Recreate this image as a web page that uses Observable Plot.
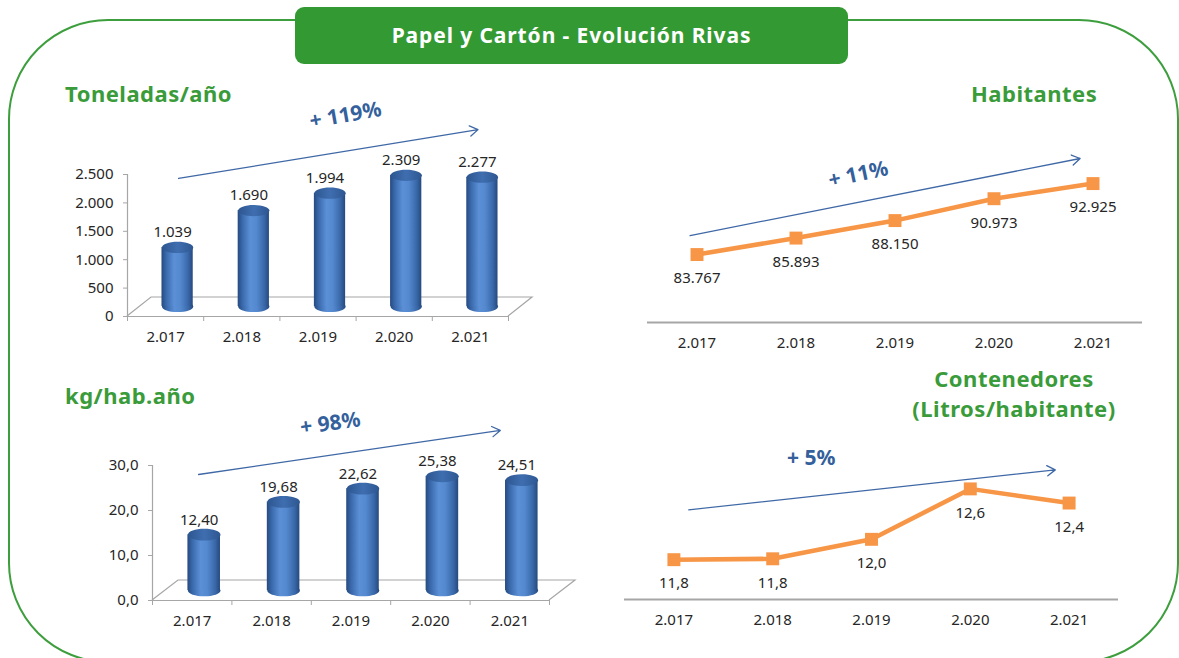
<!DOCTYPE html>
<html>
<head>
<meta charset="utf-8">
<script src="https://cdn.jsdelivr.net/npm/d3@7"></script>
<script src="https://cdn.jsdelivr.net/npm/@observablehq/plot@0.6"></script>
<style>
html, body { margin: 0; padding: 0; background: #ffffff; }
#root { position: relative; width: 1179px; height: 658px; overflow: hidden; font-family: "Noto Sans", sans-serif; background: #fff; }
.frame { position: absolute; left: 8px; top: 19px; width: 1171px; height: 644px; border: 2px solid #3c9e3c; border-radius: 100px; box-sizing: border-box; }
.banner { position: absolute; left: 295px; top: 7px; width: 553px; height: 57px; background: #339933; border-radius: 9px; color: #fff; font-weight: 700; font-size: 21px; letter-spacing: 0.9px; line-height: 57px; text-align: center; }
.ptitle { position: absolute; color: #3a9b3a; font-weight: 700; font-size: 22px; letter-spacing: 0.5px; line-height: 30px; white-space: nowrap; }
.panel { position: absolute; }
.panel svg { display: block; }
</style>
</head>
<body>
<div id="root">
  <div class="frame"></div>
  <div class="banner">Papel y Cartón - Evolución Rivas</div>
  <div class="ptitle" style="left:65px; top:78px;">Toneladas/año</div>
  <div class="ptitle" style="left:65px; top:380px;">kg/hab.año</div>
  <div class="ptitle" style="left:971px; top:78px;">Habitantes</div>
  <div class="ptitle" style="left:904px; top:363px; width:220px; text-align:center;">Contenedores<br>(Litros/habitante)</div>
  <div class="panel" id="p1" style="left:0px; top:100px;"></div>
  <div class="panel" id="p2" style="left:620px; top:100px;"></div>
  <div class="panel" id="p3" style="left:0px; top:380px;"></div>
  <div class="panel" id="p4" style="left:600px; top:400px;"></div>
</div>
<script>
// ---------- data ----------
const years = [2017, 2018, 2019, 2020, 2021];
const toneladas = [1039, 1690, 1994, 2309, 2277];
const kgHab = [12.40, 19.68, 22.62, 25.38, 24.51];
const habitantes = [83767, 85893, 88150, 90973, 92925];
const contenedores = [11.80, 11.81, 12.03, 12.60, 12.44];
const toneladasTicks = [0, 500, 1000, 1500, 2000, 2500];
const kgHabTicks = [0, 10, 20, 30];
const trendLabels = ["+ 119%", "+ 98%", "+ 11%", "+ 5%"];

// ---------- style ----------
const AXIS = "#a6a6a6";
const TEXT = "#262626";
const ARROW = "#3f68a6";
const TREND = "#34609c";
const ORANGE = "#f79646";
const FONT = "Noto Sans, sans-serif";
const HALF = 0.205; // half cylinder width, in band units

const es = d3.formatLocale({decimal: ",", thousands: ".", grouping: [3], currency: ["", " €"]});
const fmtYear = es.format(",d");
const idx = years.map((_, i) => i);
const bounds = [...idx.map(i => i - 0.5), years.length - 0.5];

const ellipse = {
  draw(ctx, size) {
    const rx = Math.sqrt(size / Math.PI), ry = rx * 0.36, k = 0.5523;
    ctx.moveTo(rx, 0);
    ctx.bezierCurveTo(rx, ry * k, rx * k, ry, 0, ry);
    ctx.bezierCurveTo(-rx * k, ry, -rx, ry * k, -rx, 0);
    ctx.bezierCurveTo(-rx, -ry * k, -rx * k, -ry, 0, -ry);
    ctx.bezierCurveTo(rx * k, -ry, rx, -ry * k, rx, 0);
    ctx.closePath();
  }
};

function gradientDefs(id) {
  return () => {
    const defs = d3.create("svg:defs");
    const body = defs.append("linearGradient").attr("id", id + "-body")
      .attr("x1", 0).attr("x2", 1).attr("y1", 0).attr("y2", 0);
    [[0, "#264a80"], [0.16, "#3b6bae"], [0.4, "#5b8fd6"], [0.6, "#5489cf"], [0.85, "#3968a9"], [1, "#26497e"]]
      .forEach(([o, c]) => body.append("stop").attr("offset", o).attr("stop-color", c));
    const top = defs.append("linearGradient").attr("id", id + "-top")
      .attr("x1", 0).attr("x2", 1).attr("y1", 0).attr("y2", 0);
    [[0, "#2d5690"], [0.5, "#3f6eb0"], [1, "#2e5791"]]
      .forEach(([o, c]) => top.append("stop").attr("offset", o).attr("stop-color", c));
    return defs.node();
  };
}

function floorMark(n, depth) {
  return (index, scales) => {
    const x0 = scales.x(-0.5), x1 = scales.x(n - 0.5), y0 = scales.y(0);
    const [ddx, ddy] = depth;
    return d3.create("svg:path")
      .attr("d", `M${x0},${y0}L${x0 + ddx},${y0 + ddy}L${x1 + ddx},${y0 + ddy}L${x1},${y0}`)
      .attr("fill", "none").attr("stroke", AXIS).attr("stroke-width", 1.2)
      .node();
  };
}

function trendMarks(trend) {
  return [
    Plot.arrow([trend], {x1: "x1", y1: "y1", x2: "x2", y2: "y2", stroke: ARROW, strokeWidth: 1.3, headLength: 11, headAngle: 65}),
    Plot.text([trend], {x: "lx", y: "ly", text: "label", rotate: trend.rotate, fill: TREND, fontSize: 21, fontWeight: 700, fontFamily: FONT})
  ];
}

function cylinderChart(cfg) {
  const {id, values, ticks, tickFmt, valueFmt, width, height, margin, depth, shift, trend} = cfg;
  const data = values.map((v, i) => ({i, v}));
  const [mt, mr, mb, ml] = margin;
  const band = (width - ml - mr) / years.length;
  const rx = HALF * band;
  const [sx, sy] = shift;
  const top = ticks[ticks.length - 1];
  return Plot.plot({
    width, height, marginTop: mt, marginRight: mr, marginBottom: mb, marginLeft: ml,
    x: {domain: [-0.5, years.length - 0.5]},
    y: {domain: [0, top]},
    style: {fontFamily: FONT, fontSize: "15px", background: "transparent", overflow: "visible", maxWidth: "none"},
    marks: [
      gradientDefs(id),
      floorMark(years.length, depth),
      Plot.ruleY([0], {stroke: AXIS, strokeWidth: 1.2}),
      Plot.ruleX([-0.5], {y1: 0, y2: top, stroke: AXIS, strokeWidth: 1.2}),
      Plot.axisY({ticks, tickFormat: tickFmt, tickSize: 4, tickPadding: 10, stroke: AXIS, fill: TEXT, fontSize: 15}),
      Plot.axisX({ticks: bounds, tickFormat: () => "", tickSize: 5, stroke: AXIS}),
      Plot.axisX({ticks: idx, tickFormat: i => fmtYear(years[i]), tickSize: 0, tickPadding: 15, fill: TEXT, fontSize: 15}),
      Plot.dot(data, {x: "i", y: 0, dx: sx, dy: sy, symbol: ellipse, r: rx, fill: `url(#${id}-body)`}),
      Plot.rect(data, {x1: d => d.i - HALF, x2: d => d.i + HALF, y1: 0, y2: "v", dx: sx, dy: sy, fill: `url(#${id}-body)`}),
      Plot.dot(data, {x: "i", y: "v", dx: sx, dy: sy, symbol: ellipse, r: rx, fill: `url(#${id}-top)`}),
      Plot.text(data, {x: "i", y: "v", text: d => valueFmt(d.v), dx: sx - 5, dy: sy - 15, fill: TEXT, fontSize: 15}),
      ...trendMarks(trend)
    ]
  });
}

function lineChart(cfg) {
  const {values, fmt, domain, width, height, margin, labelDy, trend} = cfg;
  const data = values.map((v, i) => ({i, v}));
  const [mt, mr, mb, ml] = margin;
  return Plot.plot({
    width, height, marginTop: mt, marginRight: mr, marginBottom: mb, marginLeft: ml,
    x: {domain: [-0.5, years.length - 0.5]},
    y: {domain, axis: null},
    style: {fontFamily: FONT, fontSize: "15px", background: "transparent", overflow: "visible", maxWidth: "none"},
    marks: [
      Plot.ruleY([domain[0]], {stroke: AXIS, strokeWidth: 2}),
      Plot.axisX({ticks: idx, tickFormat: i => fmtYear(years[i]), tickSize: 0, tickPadding: 15, fill: TEXT, fontSize: 15}),
      ...trendMarks(trend),
      Plot.line(data, {x: "i", y: "v", stroke: ORANGE, strokeWidth: 4.5}),
      Plot.dot(data, {x: "i", y: "v", symbol: "square", r: 7.3, fill: ORANGE}),
      Plot.text(data, {x: "i", y: "v", text: d => fmt(d.v), dy: labelDy, fill: TEXT, fontSize: 15})
    ]
  });
}

document.getElementById("p1").append(cylinderChart({
  id: "cyl1", values: toneladas, ticks: toneladasTicks,
  tickFmt: es.format(",d"), valueFmt: es.format(",d"),
  width: 560, height: 260, margin: [74, 52, 44, 127],
  depth: [24, -19], shift: [12, -10],
  trend: {x1: 0.17, y1: 2430, x2: 4.1, y2: 3290, lx: 2.36, ly: 3540, label: trendLabels[0], rotate: -10}
}));

document.getElementById("p3").append(cylinderChart({
  id: "cyl3", values: kgHab, ticks: kgHabTicks,
  tickFmt: es.format(",.1f"), valueFmt: es.format(",.2f"),
  width: 600, height: 270, margin: [85, 51, 50, 152],
  depth: [26, -20], shift: [12, -10],
  trend: {x1: 0.08, y1: 28.0, x2: 3.88, y2: 37.8, lx: 1.74, ly: 39.3, label: trendLabels[1], rotate: -8}
}));

document.getElementById("p2").append(lineChart({
  values: habitantes, fmt: es.format(",d"), domain: [75000, 95000],
  width: 540, height: 260, margin: [67, 18, 38, 27], labelDy: 24,
  trend: {x1: -0.07, y1: 86220, x2: 3.87, y2: 96160, lx: 1.63, ly: 94090, label: trendLabels[2], rotate: -12}
}));

document.getElementById("p4").append(lineChart({
  values: contenedores, fmt: es.format(".1f"), domain: [11.35, 13.0],
  width: 560, height: 250, margin: [53, 42, 51, 24], labelDy: 24,
  trend: {x1: 0.15, y1: 12.364, x2: 3.86, y2: 12.815, lx: 1.39, ly: 12.95, label: trendLabels[3], rotate: 0}
}));
</script>
</body>
</html>
